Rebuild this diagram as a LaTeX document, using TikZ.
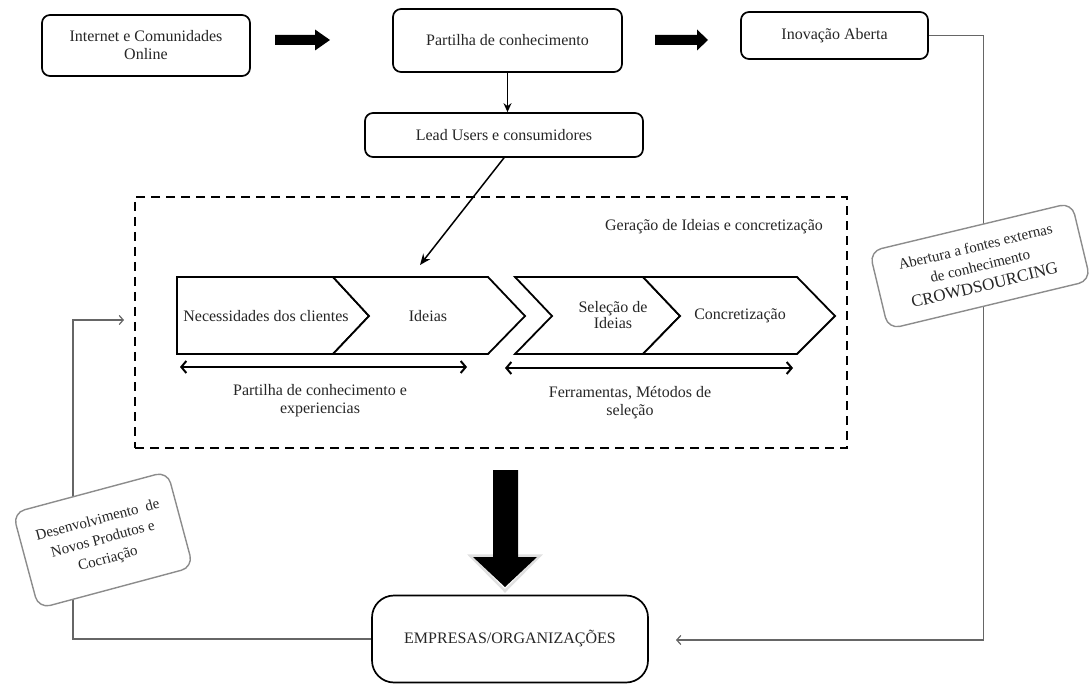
\documentclass[tikz,border=0pt]{standalone}
\usepackage{fontspec}
\setmainfont{Liberation Serif}
\usetikzlibrary{arrows.meta}
\begin{document}
\begin{tikzpicture}[x=1pt,y=-1pt,
  font=\fontsize{16}{18}\selectfont,
  box/.style={draw=black, line width=1.7pt, rounded corners=8pt, fill=white,
    align=center, inner sep=0pt, text=black!85},
  tag/.style={draw=black!45, line width=1.4pt, rounded corners=12pt, fill=white,
    align=center, inner sep=0pt, text=black!85, font=\fontsize{15}{20}\selectfont},
  downarrow/.style={line width=1.5pt, -{Stealth[length=9pt,width=8pt]}},
  fb/.style={draw=black!60, line width=1.2pt, -{Straight Barb[length=4pt,width=9pt]}},
  span/.style={line width=2pt,
    {Straight Barb[length=5pt,width=12pt]}-{Straight Barb[length=5pt,width=12pt]}},
  chev/.style={draw=black, line width=1.8pt, fill=white, line join=miter},
  lbl/.style={align=center, inner sep=0pt, text=black!85},
  frame/.style={draw=black, line width=2.2pt, dash pattern=on 9pt off 6pt,
    inner sep=0pt}
]
\useasboundingbox (0,0) rectangle (1089,684);

% top row of boxes
\node[box, minimum width=208pt, minimum height=61pt] (net) at (146,45.5)
  {Internet e Comunidades\\Online};
\node[box, minimum width=229pt, minimum height=63pt] (share) at (507.5,40.5)
  {Partilha de conhecimento};
\node[box, minimum width=187pt, minimum height=47pt] (open) at (834.5,35.5)
  {Inovação Aberta};
\node[box, minimum width=278pt, minimum height=44pt] (lead) at (504,135)
  {Lead Users e consumidores};

% block arrows between the top boxes
\fill (275,35) -- (315,35) -- (315,29.5) -- (330,40) -- (315,50.5) -- (315,45) -- (275,45) -- cycle;
\fill (655,35) -- (697,35) -- (697,29.5) -- (708,40) -- (697,50.5) -- (697,45) -- (655,45) -- cycle;

\draw[downarrow] (share.south) -- (share.south |- lead.north);

% idea generation stage
\node[frame, minimum width=712pt, minimum height=251pt] (stage) at (491,322.5) {};
\node[lbl] (gen) at (714,227) {Geração de Ideias e concretização};

\coordinate (hit) at (420,265);
\draw[line width=1.5pt, -{Stealth[length=11pt,width=9pt]}] (lead.south) -- (hit);

\draw[chev] (177,277) -- (333,277) -- (369,316) -- (333,354) -- (177,354) -- cycle;
\draw[chev] (333,277) -- (488,277) -- (525,316) -- (488,354) -- (333,354) -- (369,316) -- cycle;
\draw[chev] (515,277) -- (643,277) -- (680,316) -- (643,354) -- (515,354) -- (552,316) -- cycle;
\draw[chev] (643,277) -- (797,277) -- (835,316) -- (797,354) -- (643,354) -- (680,316) -- cycle;

\node[lbl] (needs) at (266,316) {Necessidades dos clientes};
\node[lbl] (ideas) at (428,316) {Ideias};
\node[lbl, font=\fontsize{16}{16}\selectfont] (select) at (613,315) {Seleção de\\Ideias};
\node[lbl] (build) at (740,316) {Concretização};

\coordinate (s1a) at (180,367);
\coordinate (s1b) at (467,367);
\coordinate (s2a) at (505,368);
\coordinate (s2b) at (793,368);
\draw[span] (s1a) -- (s1b);
\draw[span] (s2a) -- (s2b);

\node[lbl] (lab1) at (320,401) {Partilha de conhecimento e\\experiencias};
\node[lbl] (lab2) at (630,403) {Ferramentas, Métodos de\\seleção};

% big arrow down to the companies
\draw[black!12, line width=2.5pt, line join=miter] (470,555.5) -- (540,555.5) -- (505,591) -- cycle;
\fill (493,470) -- (518,470) -- (518,557) -- (537,557) -- (505,587) -- (473,557) -- (493,557) -- cycle;

\node[box, rounded corners=22pt, minimum width=276pt, minimum height=87pt] (firms) at (510,639)
  {EMPRESAS/ORGANIZAÇÕES};

% feedback loops
\coordinate (rin) at (676,640);
\coordinate (lin) at (124,320);
\draw[fb] (open.east) -- ++(55,0) |- (rin);
\draw[fb] (firms.west) -- (73,639) |- (lin);

\node[tag, rotate=15, minimum width=160pt, minimum height=99pt] (dev) at (103,540)
  {Desenvolvimento\ \ de\\Novos Produtos e\\Cocriação};
\node[tag, rotate=13.5, minimum width=208pt, minimum height=80pt] (crowd) at (980,266)
  {Abertura a fontes externas\\de conhecimento\\{\fontsize{17}{20}\selectfont CROWDSOURCING}};
\end{tikzpicture}
\end{document}
